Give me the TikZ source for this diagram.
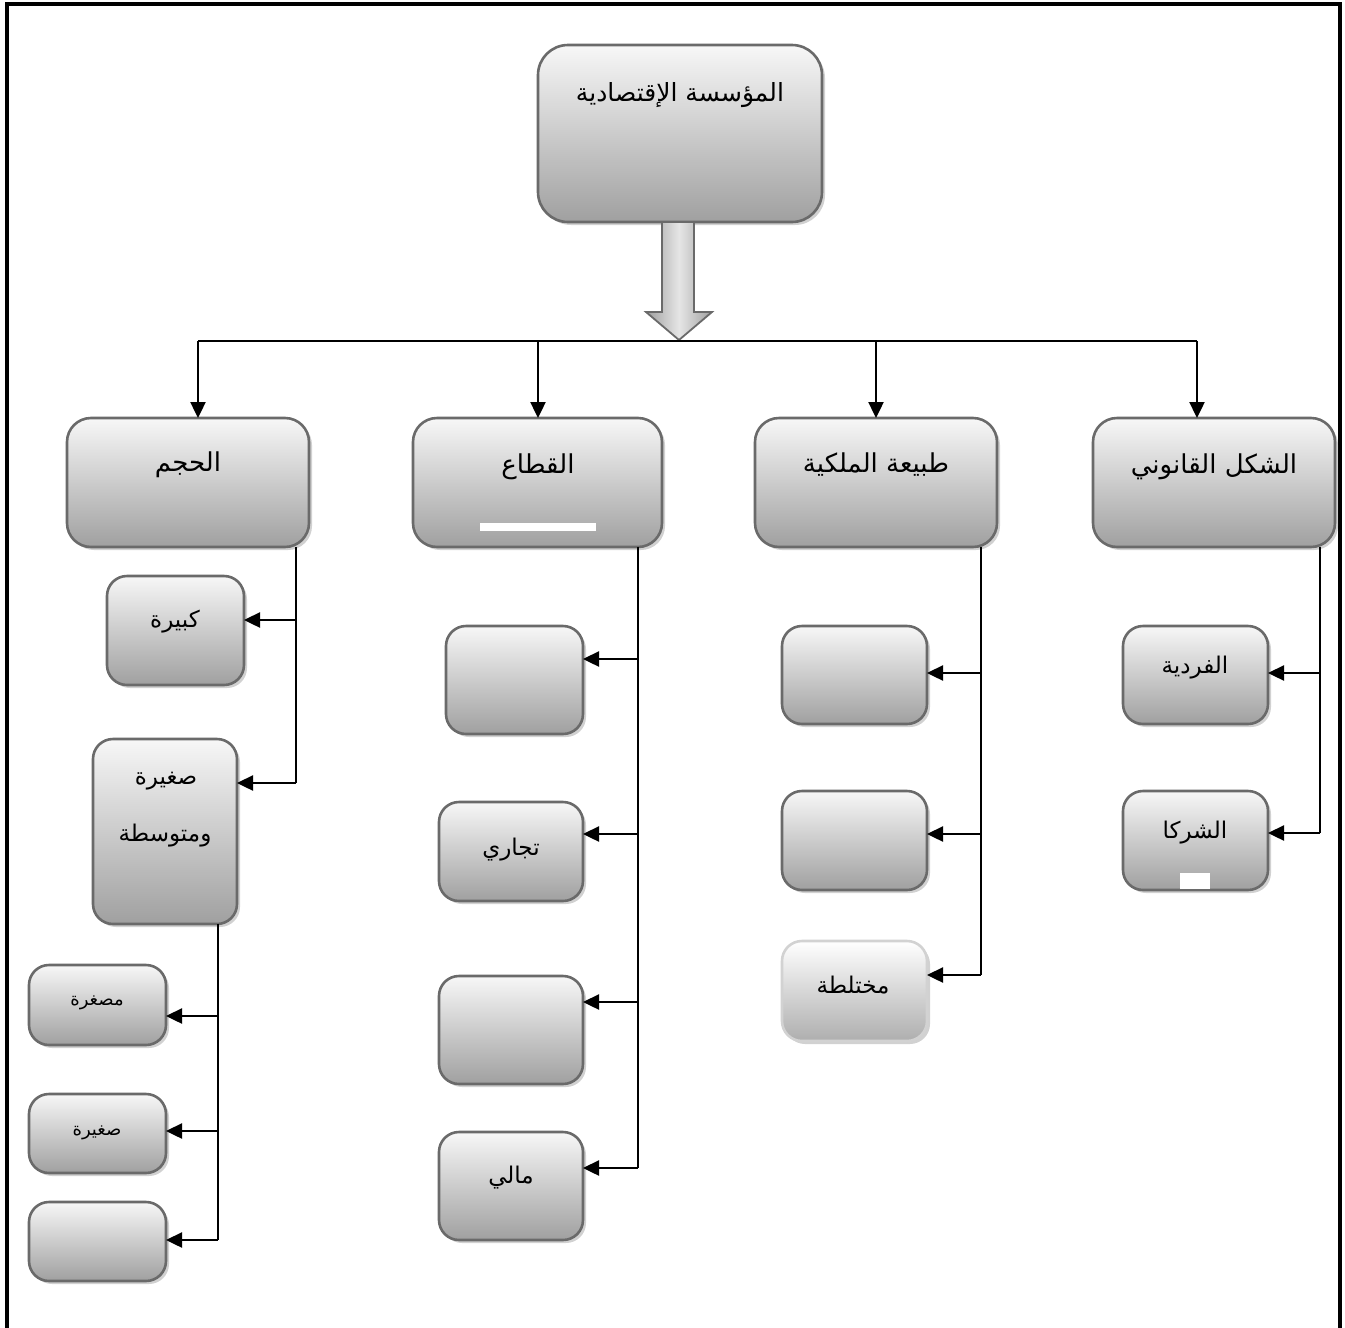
\documentclass[tikz,border=0pt]{standalone}
\usepackage{fontspec}
\newfontfamily\arabicfont[Script=Arabic]{DejaVu Sans}
\TeXXeTstate=1
\usetikzlibrary{arrows.meta,shadows}

\definecolor{boxline}{HTML}{6A6A6A}
\definecolor{boxtop}{HTML}{F7F7F7}
\definecolor{boxbot}{HTML}{A0A0A0}
\definecolor{paleline}{HTML}{D2D2D2}

% right-to-left Arabic text
\newcommand\artxt[1]{\arabicfont\beginR #1\endR}
% rounded box given by its pixel corners: [style]{name}{x1}{y1}{x2}{y2}
\newcommand\pxbox[6][]{%
  \node[box,#1,minimum width={(#5-#3)*0.5pt},minimum height={(#6-#4)*0.5pt}]
    (#2) at ({(#3+#5)/2},{(#4+#6)/2}) {};}

\begin{document}
\begin{tikzpicture}[x=0.5pt,y=-0.5pt,
  box/.style={draw=boxline, line width=1.3pt, rounded corners=10pt,
    top color=boxtop, bottom color=boxbot, inner sep=0pt, outer sep=0pt,
    drop shadow={shadow xshift=1.5pt, shadow yshift=-1.5pt, opacity=0.3, fill=black!60}},
  bigbox/.style={rounded corners=15pt},
  midbox/.style={rounded corners=12pt},
  palebox/.style={draw=paleline, top color=white, bottom color=boxbot!85},
  lbl/.style={inner sep=1pt, text=black},
  fbig/.style={font=\fontsize{12.5}{15}\selectfont},
  fmid/.style={font=\fontsize{13}{15}\selectfont},
  fsmall/.style={font=\fontsize{11.5}{14}\selectfont},
  ftiny/.style={font=\fontsize{9}{11}\selectfont},
  conn/.style={line width=1.2pt, black},
  arr/.style={conn, -{Triangle[length=8pt,width=7.5pt]}},
  gap/.style={fill=white, draw=none, inner sep=0pt, outer sep=0pt}
]
\useasboundingbox (0,0) rectangle (1345,1328);

% page frame (open at the bottom)
\draw[line width=1.6pt] (7,1340) -- (7,4) -- (1340,4) -- (1340,1340);

% ---- boxes ----
\pxbox[bigbox]{top}{538}{45}{822}{222}
\pxbox[midbox]{L1}{67}{418}{309}{547}
\pxbox[midbox]{L2}{413}{418}{662}{547}
\pxbox[midbox]{L3}{755}{418}{997}{547}
\pxbox[midbox]{L4}{1093}{418}{1335}{547}

\pxbox{A1}{107}{576}{244}{685}
\pxbox{A2}{93}{739}{237}{924}
\pxbox{A3}{29}{965}{166}{1045}
\pxbox{A4}{29}{1094}{166}{1173}
\pxbox{A5}{29}{1202}{166}{1281}

\pxbox{B1}{446}{626}{583}{734}
\pxbox{B2}{439}{802}{583}{901}
\pxbox{B3}{439}{976}{583}{1084}
\pxbox{B4}{439}{1132}{583}{1240}

\pxbox{C1}{782}{626}{927}{724}
\pxbox{C2}{782}{791}{927}{890}
\pxbox[palebox]{C3}{782}{941}{927}{1041}

\pxbox{D1}{1123}{626}{1268}{724}
\pxbox{D2}{1123}{791}{1268}{890}

% white strips inside two boxes
\node[gap, minimum width=58pt, minimum height=4pt] (strip1) at (538,527) {};
\node[gap, minimum width=15pt, minimum height=8pt] (strip2) at (1195,881) {};

% ---- labels ----
\node[lbl, fbig] (tTop) at (680,95) {\artxt{المؤسسة الإقتصادية}};
\node[lbl, fmid] (tL1) at (188,465) {\artxt{الحجم}};
\node[lbl, fmid] (tL2) at (538,467) {\artxt{القطاع}};
\node[lbl, fmid] (tL3) at (876,465) {\artxt{طبيعة الملكية}};
\node[lbl, fmid] (tL4) at (1214,467) {\artxt{الشكل القانوني}};

\node[lbl, fsmall] (tA1) at (175,622) {\artxt{كبيرة}};
\node[lbl, fsmall] (tA2a) at (166,781) {\artxt{صغيرة}};
\node[lbl, fsmall] (tA2b) at (165,836) {\artxt{ومتوسطة}};
\node[lbl, ftiny] (tA3) at (97,1003) {\artxt{مصغرة}};
\node[lbl, ftiny] (tA4) at (97,1133) {\artxt{صغيرة}};

\node[lbl, fsmall] (tB2) at (511,850) {\artxt{تجاري}};
\node[lbl, fsmall] (tB4) at (511,1178) {\artxt{مالي}};
\node[lbl, fsmall] (tC3) at (853,985) {\artxt{مختلطة}};
\node[lbl, fsmall] (tD1) at (1195,668) {\artxt{الفردية}};
\node[lbl, fsmall] (tD2) at (1195,833) {\artxt{الشركا}};

% ---- block arrow under the top box ----
\path[draw=boxline, line width=0.9pt, left color=gray!75, right color=gray!75, middle color=gray!20]
  (662,222) -- (694,222) -- (694,312) -- (712,312) -- (679,340) -- (646,312) -- (662,312) -- cycle;

% ---- distribution bus ----
\coordinate (d1) at (198,341);
\coordinate (d2) at (538,341);
\coordinate (d3) at (876,341);
\coordinate (d4) at (1197,341);
\draw[conn] (d1) -- (d4);
\draw[arr] (d1) -- (d1 |- L1.north);
\draw[arr] (d2) -- (d2 |- L2.north);
\draw[arr] (d3) -- (d3 |- L3.north);
\draw[arr] (d4) -- (d4 |- L4.north);

% ---- size branch ----
\coordinate (a1) at (296,620);
\coordinate (a2) at (296,783);
\draw[conn] (a1 |- L1.south) -- (a2);
\draw[arr] (a1) -- (a1 -| A1.east);
\draw[arr] (a2) -- (a2 -| A2.east);

\coordinate (a3) at (218,1016);
\coordinate (a4) at (218,1131);
\coordinate (a5) at (218,1240);
\draw[conn] (a3 |- A2.south) -- (a5);
\draw[arr] (a3) -- (a3 -| A3.east);
\draw[arr] (a4) -- (a4 -| A4.east);
\draw[arr] (a5) -- (a5 -| A5.east);

% ---- sector branch ----
\coordinate (b1) at (638,659);
\coordinate (b2) at (638,834);
\coordinate (b3) at (638,1002);
\coordinate (b4) at (638,1168);
\draw[conn] (b1 |- L2.south) -- (b4);
\draw[arr] (b1) -- (b1 -| B1.east);
\draw[arr] (b2) -- (b2 -| B2.east);
\draw[arr] (b3) -- (b3 -| B3.east);
\draw[arr] (b4) -- (b4 -| B4.east);

% ---- ownership branch ----
\coordinate (c1) at (981,673);
\coordinate (c2) at (981,834);
\coordinate (c3) at (981,975);
\draw[conn] (c1 |- L3.south) -- (c3);
\draw[arr] (c1) -- (c1 -| C1.east);
\draw[arr] (c2) -- (c2 -| C2.east);
\draw[arr] (c3) -- (c3 -| C3.east);

% ---- legal form branch ----
\coordinate (e1) at (1320,673);
\coordinate (e2) at (1320,833);
\draw[conn] (e1 |- L4.south) -- (e2);
\draw[arr] (e1) -- (e1 -| D1.east);
\draw[arr] (e2) -- (e2 -| D2.east);
\end{tikzpicture}
\end{document}
